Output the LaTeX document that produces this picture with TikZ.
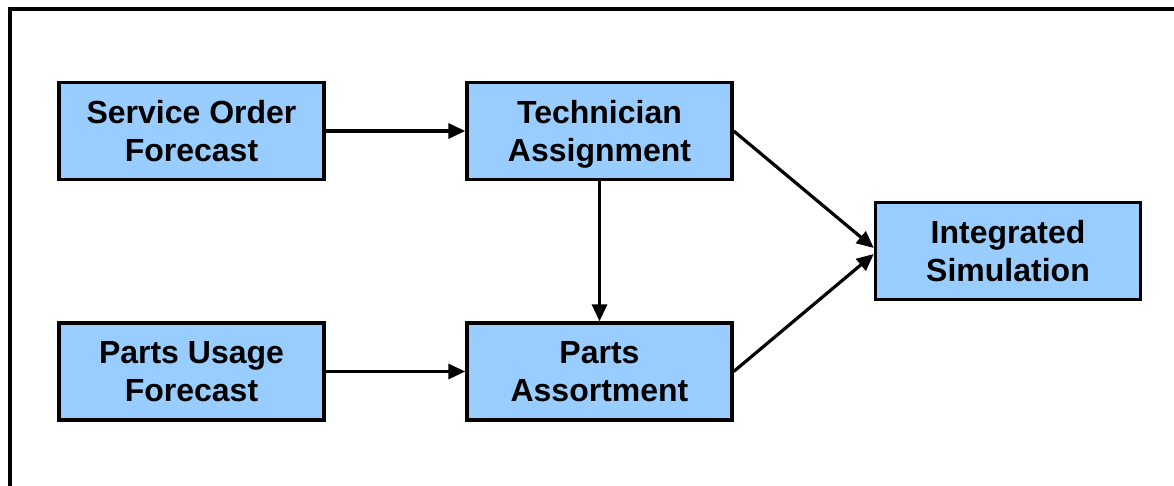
\documentclass[tikz,border=0pt]{standalone}
\usepackage{fontspec}
\setmainfont{Liberation Sans}
\usetikzlibrary{arrows.meta}
\definecolor{boxblue}{HTML}{99CCFF}
\tikzset{
  blk/.style={draw=black, line width=3.4pt, fill=boxblue, minimum width=265pt,
    minimum height=97pt, align=center, inner sep=0pt, text depth=0pt,
    font=\fontsize{32}{38}\selectfont\bfseries},
  conn/.style={line width=3.2pt, -{Triangle[length=17pt,width=15pt]}}
}
\begin{document}
\begin{tikzpicture}[x=1pt,y=-1pt]
\useasboundingbox (0,0) rectangle (1174,486);
\draw[line width=3.6pt] (10,490) -- (10,9) -- (1178,9);
\node[blk] (sof) at (191.5,131) {Service Order\\Forecast};
\node[blk] (ta) at (599.5,131) {Technician\\Assignment};
\node[blk] (puf) at (191.5,371.5) {Parts Usage\\Forecast};
\node[blk] (pa) at (599.5,371.5) {Parts\\Assortment};
\node[blk] (is) at (1008,251) {Integrated\\Simulation};
\draw[conn] (sof.east) -- (ta.west);
\draw[conn] (puf.east) -- (pa.west);
\draw[conn] (ta.south) -- (pa.north);
\draw[conn] (ta.east) -- ([yshift=3pt]is.west);
\draw[conn] (pa.east) -- ([yshift=-3pt]is.west);
\end{tikzpicture}
\end{document}
